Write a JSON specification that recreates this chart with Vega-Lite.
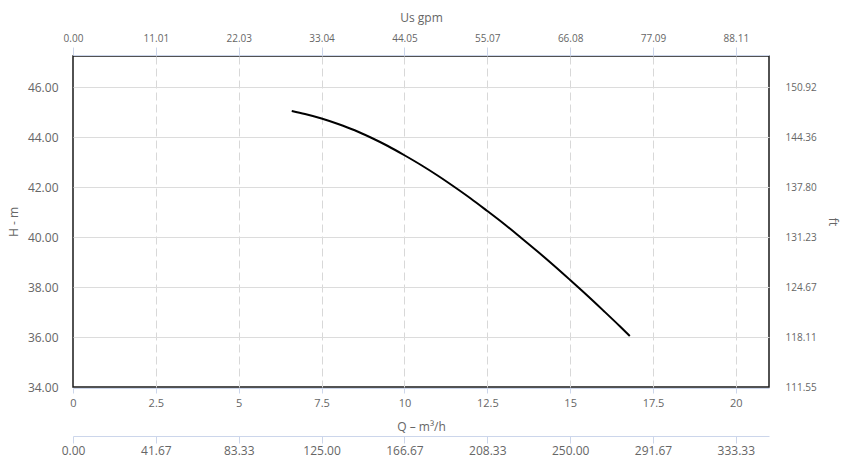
{
  "$schema": "https://vega.github.io/schema/vega-lite/v6.json",
  "width": 696,
  "height": 331,
  "autosize": {"type": "none"},
  "padding": {"left": 73, "top": 56, "right": 78, "bottom": 78},
  "background": "white",
  "config": {
    "font": "Open Sans",
    "view": {"stroke": "#1a1a1a", "strokeWidth": 1.5},
    "axis": {
      "labelColor": "#666666",
      "labelFontSize": 10,
      "labelFlush": false,
      "titleColor": "#666666",
      "titleFontSize": 12,
      "titleFontWeight": "normal",
      "domainColor": "#ccd6eb",
      "tickColor": "#ccd6eb"
    }
  },
  "data": {
    "values": [
      {"q": 6.6, "h": 45.04},
      {"q": 7.0, "h": 44.92},
      {"q": 7.5, "h": 44.74},
      {"q": 8.0, "h": 44.52},
      {"q": 8.5, "h": 44.27},
      {"q": 9.0, "h": 43.97},
      {"q": 9.5, "h": 43.64},
      {"q": 10.0, "h": 43.27},
      {"q": 10.5, "h": 42.88},
      {"q": 11.0, "h": 42.46},
      {"q": 11.5, "h": 42.01},
      {"q": 12.0, "h": 41.54},
      {"q": 12.5, "h": 41.04},
      {"q": 13.0, "h": 40.53},
      {"q": 13.5, "h": 39.99},
      {"q": 14.0, "h": 39.44},
      {"q": 14.5, "h": 38.87},
      {"q": 15.0, "h": 38.28},
      {"q": 15.5, "h": 37.68},
      {"q": 16.0, "h": 37.06},
      {"q": 16.5, "h": 36.43},
      {"q": 16.8, "h": 36.04}
    ]
  },
  "layer": [
    {
      "mark": {"type": "line", "color": "black", "strokeWidth": 2, "interpolate": "monotone"},
      "encoding": {
        "x": {
          "field": "q", "type": "quantitative",
          "scale": {"domain": [0, 21], "nice": false, "zero": false},
          "axis": {
            "orient": "bottom", "offset": 1,
            "values": [0, 2.5, 5, 7.5, 10, 12.5, 15, 17.5, 20],
            "labelExpr": "datum.value + ''",
            "labelFontSize": 11,
            "grid": true, "gridColor": "#d8d8d8", "gridDash": [8, 4],
            "gridOpacity": {"condition": {"test": "datum.value === 0", "value": 0}, "value": 1},
            "tickSize": 5, "labelPadding": 4,
            "title": "Q – m³/h", "titlePadding": 13
          }
        },
        "y": {
          "field": "h", "type": "quantitative",
          "scale": {"domain": [34, 47.24], "nice": false, "zero": false},
          "axis": {
            "orient": "left",
            "values": [34, 36, 38, 40, 42, 44, 46],
            "format": ".2f",
            "labelFontSize": 12,
            "grid": true, "gridColor": "#dcdcdc",
            "gridOpacity": {"condition": {"test": "datum.value === 34", "value": 0}, "value": 1},
            "ticks": false, "domain": false, "labelPadding": 15,
            "title": "H - m", "titlePadding": 7
          }
        }
      }
    },
    {
      "mark": {"type": "line", "opacity": 0},
      "encoding": {
        "x": {
          "field": "q", "type": "quantitative",
          "scale": {"domain": [0, 21], "nice": false, "zero": false},
          "axis": {
            "orient": "top", "offset": 1,
            "values": [0, 2.5, 5, 7.5, 10, 12.5, 15, 17.5, 20],
            "labelExpr": "format(datum.value * 4.4053, '.2f')",
            "grid": false, "tickSize": 8, "labelPadding": 4,
            "title": "Us gpm", "titlePadding": 9
          }
        },
        "y": {
          "field": "h", "type": "quantitative",
          "scale": {"domain": [34, 47.24], "nice": false, "zero": false},
          "axis": {
            "orient": "right",
            "values": [34, 36, 38, 40, 42, 44, 46],
            "labelExpr": "format(datum.value * 3.28084, '.2f')",
            "grid": false, "ticks": false, "domain": false, "labelPadding": 16,
            "title": "ft", "titlePadding": 9
          }
        }
      }
    },
    {
      "mark": {"type": "line", "opacity": 0},
      "encoding": {
        "x": {
          "field": "q", "type": "quantitative",
          "scale": {"domain": [0, 21], "nice": false, "zero": false},
          "axis": {
            "orient": "bottom", "offset": 49,
            "values": [0, 2.5, 5, 7.5, 10, 12.5, 15, 17.5, 20],
            "labelExpr": "format(datum.value * 16.666667, '.2f')",
            "labelFontSize": 12,
            "grid": false, "tickSize": 7, "labelPadding": 2,
            "title": null
          }
        },
        "y": {
          "field": "h", "type": "quantitative",
          "scale": {"domain": [34, 47.24], "nice": false, "zero": false},
          "axis": null
        }
      }
    }
  ],
  "resolve": {
    "scale": {"x": "independent", "y": "independent"},
    "axis": {"x": "independent", "y": "independent"}
  }
}
